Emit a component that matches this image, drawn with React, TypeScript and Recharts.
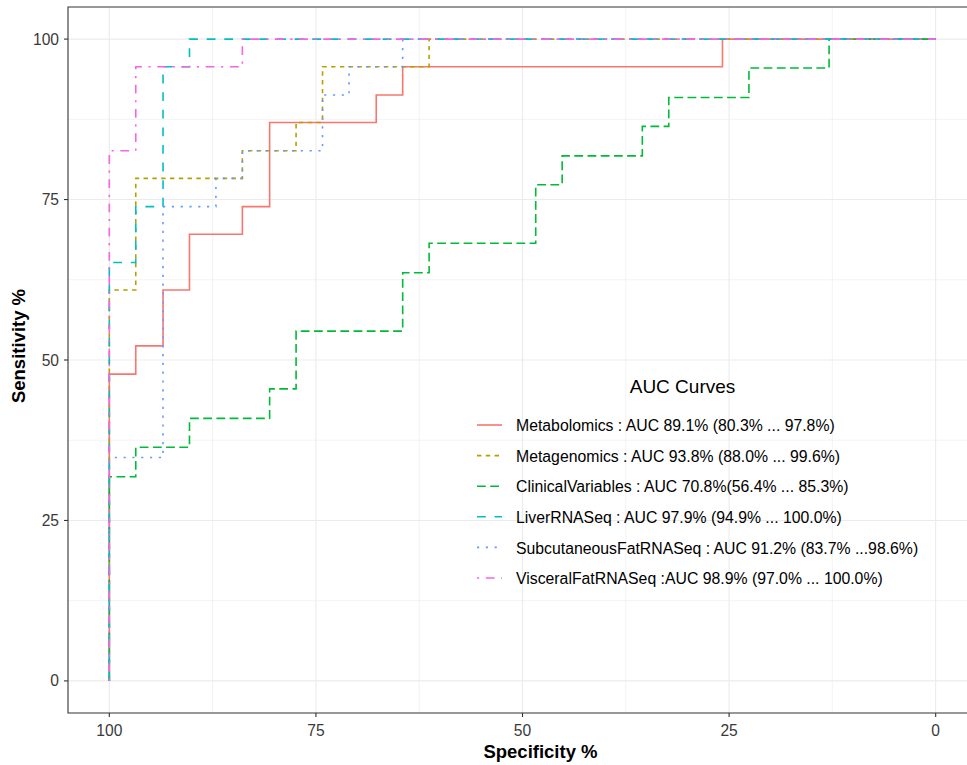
import React from "react";
import {
  LineChart,
  Line,
  XAxis,
  YAxis,
  CartesianGrid,
  ReferenceArea,
  Legend,
} from "recharts";

// ---- data (corner points of each ROC step curve) ----
const metabolomicsSpec = [100, 100, 96.8, 96.8, 93.5, 93.5, 90.3, 90.3, 83.9, 83.9, 80.6, 80.6, 67.7, 67.7, 64.5, 64.5, 25.8, 25.8, 0];
const metabolomicsSens = [0, 47.8, 47.8, 52.2, 52.2, 60.9, 60.9, 69.6, 69.6, 73.9, 73.9, 87.0, 87.0, 91.3, 91.3, 95.7, 95.7, 100, 100];

const metagenomicsSpec = [100, 100, 96.8, 96.8, 83.9, 83.9, 77.4, 77.4, 74.2, 74.2, 61.3, 61.3, 0];
const metagenomicsSens = [0, 60.9, 60.9, 78.3, 78.3, 82.6, 82.6, 87.0, 87.0, 95.7, 95.7, 100, 100];

const clinicalSpec = [100, 100, 96.8, 96.8, 90.3, 90.3, 80.6, 80.6, 77.4, 77.4, 64.5, 64.5, 61.3, 61.3, 48.4, 48.4, 45.2, 45.2, 35.5, 35.5, 32.3, 32.3, 22.6, 22.6, 12.9, 12.9, 0];
const clinicalSens = [0, 31.8, 31.8, 36.4, 36.4, 40.9, 40.9, 45.5, 45.5, 54.5, 54.5, 63.6, 63.6, 68.2, 68.2, 77.3, 77.3, 81.8, 81.8, 86.4, 86.4, 90.9, 90.9, 95.5, 95.5, 100, 100];

const liverSpec = [100, 100, 96.8, 96.8, 93.5, 93.5, 90.3, 90.3, 0];
const liverSens = [0, 65.2, 65.2, 73.9, 73.9, 95.7, 95.7, 100, 100];

const subcutSpec = [100, 100, 93.5, 93.5, 87.1, 87.1, 83.9, 83.9, 74.2, 74.2, 71.0, 71.0, 64.5, 64.5, 0];
const subcutSens = [0, 34.8, 34.8, 73.9, 73.9, 78.3, 78.3, 82.6, 82.6, 91.3, 91.3, 95.7, 95.7, 100, 100];

const visceralSpec = [100, 100, 96.8, 96.8, 83.9, 83.9, 0];
const visceralSens = [0, 82.6, 82.6, 95.7, 95.7, 100, 100];

const seriesLabels = [
  "Metabolomics : AUC 89.1% (80.3% ... 97.8%)",
  "Metagenomics : AUC 93.8% (88.0% ... 99.6%)",
  "ClinicalVariables : AUC 70.8%(56.4% ... 85.3%)",
  "LiverRNASeq : AUC 97.9% (94.9% ... 100.0%)",
  "SubcutaneousFatRNASeq : AUC 91.2% (83.7% ...98.6%)",
  "VisceralFatRNASeq :AUC 98.9% (97.0% ... 100.0%)",
];

const xTicks = [100, 75, 50, 25, 0];
const yTicks = [0, 25, 50, 75, 100];
const minorBreaks = [12.5, 37.5, 62.5, 87.5];

const colors = ["#F8766D", "#B79F00", "#00BA38", "#00BFC4", "#619CFF", "#F564E3"];
const dashes = ["", "4.4 4.4", "8.8 4.4", "8.8 8.8", "2.2 6.6", "2.2 6.6 8.8 6.6"];

const zip = (spec: number[], sens: number[]) =>
  spec.map((s, i) => ({ spec: s, sens: sens[i] }));

const series = [
  zip(metabolomicsSpec, metabolomicsSens),
  zip(metagenomicsSpec, metagenomicsSens),
  zip(clinicalSpec, clinicalSens),
  zip(liverSpec, liverSens),
  zip(subcutSpec, subcutSens),
  zip(visceralSpec, visceralSens),
];

const FONT = '"Liberation Sans", Arial, Helvetica, sans-serif';
const LW = 1.6;

const LegendContent = () => (
  <svg width={480} height={230} style={{ display: "block", overflow: "visible" }}>
    <text x={212.5} y={23.3} fontSize={19} textAnchor="middle" fill="#000" fontFamily={FONT}>
      AUC Curves
    </text>
    {seriesLabels.map((lab, i) => (
      <g key={lab}>
        <line
          x1={7}
          x2={32}
          y1={55 + i * 30.6}
          y2={55 + i * 30.6}
          stroke={colors[i]}
          strokeWidth={LW}
          strokeDasharray={dashes[i] || undefined}
        />
        <text x={46} y={61.2 + i * 30.6} fontSize={15.8} fill="#000" fontFamily={FONT}>
          {lab}
        </text>
      </g>
    ))}
  </svg>
);

const XTitle = (props: any) => {
  const vb = props.viewBox || { x: 68, y: 713, width: 908, height: 52 };
  return (
    <text
      x={vb.x + vb.width / 2 + 18}
      y={vb.y + vb.height - 7}
      textAnchor="middle"
      fontSize={18.5}
      fontWeight="bold"
      fill="#000"
      fontFamily={FONT}
    >
      Specificity %
    </text>
  );
};

const YTitle = (props: any) => {
  const vb = props.viewBox || { x: 0, y: 7, width: 68, height: 706 };
  const cx = vb.x + 18;
  const cy = vb.y + vb.height / 2 - 14;
  return (
    <text
      x={cx}
      y={cy}
      transform={`rotate(-90, ${cx}, ${cy})`}
      textAnchor="middle"
      dominantBaseline="central"
      fontSize={18.5}
      fontWeight="bold"
      fill="#000"
      fontFamily={FONT}
    >
      Sensitivity %
    </text>
  );
};

export default function App() {
  return (
    <div
      style={{
        position: "absolute",
        left: 0,
        top: 0,
        width: 967,
        height: 765,
        overflow: "hidden",
        background: "#fff",
        fontFamily: FONT,
      }}
    >
      <LineChart
        width={977}
        height={765}
        margin={{ top: 7, right: 0, bottom: 0, left: 0 }}
        style={{ fontFamily: FONT }}
      >
        <CartesianGrid
          horizontalValues={minorBreaks}
          verticalValues={minorBreaks}
          stroke="#EBEBEB"
          strokeWidth={0.6}
        />
        <CartesianGrid
          horizontalValues={yTicks}
          verticalValues={xTicks}
          stroke="#EBEBEB"
          strokeWidth={1.1}
        />
        <XAxis
          dataKey="spec"
          type="number"
          domain={[-5, 105]}
          reversed
          ticks={xTicks}
          allowDataOverflow
          height={52}
          axisLine={false}
          tickSize={4}
          tickMargin={8}
          tickLine={{ stroke: "#333333", strokeWidth: 1.1 }}
          tick={{ fill: "#3A3A3A", fontSize: 15.6, fontFamily: FONT }}
          label={{ content: <XTitle /> }}
        />
        <YAxis
          dataKey="sens"
          type="number"
          domain={[-5, 105]}
          ticks={yTicks}
          allowDataOverflow
          width={68}
          axisLine={false}
          tickSize={4}
          tickMargin={5}
          tickLine={{ stroke: "#333333", strokeWidth: 1.1 }}
          tick={{ fill: "#3A3A3A", fontSize: 15.6, fontFamily: FONT }}
          label={{ content: <YTitle /> }}
        />
        {series.map((d, i) => (
          <Line
            key={seriesLabels[i]}
            data={d}
            dataKey="sens"
            type="linear"
            stroke={colors[i]}
            strokeWidth={LW}
            strokeDasharray={dashes[i] || undefined}
            dot={false}
            activeDot={false}
            isAnimationActive={false}
            name={seriesLabels[i]}
          />
        ))}
        <ReferenceArea
          x1={105}
          x2={-5}
          y1={-5}
          y2={105}
          fill="none"
          fillOpacity={0}
          stroke="#333333"
          strokeWidth={1.1}
          ifOverflow="visible"
        />
        <Legend
          layout="vertical"
          align="center"
          verticalAlign="middle"
          content={<LegendContent />}
          wrapperStyle={{ left: 470, top: 370, width: 480, height: 230 }}
        />
      </LineChart>
    </div>
  );
}
